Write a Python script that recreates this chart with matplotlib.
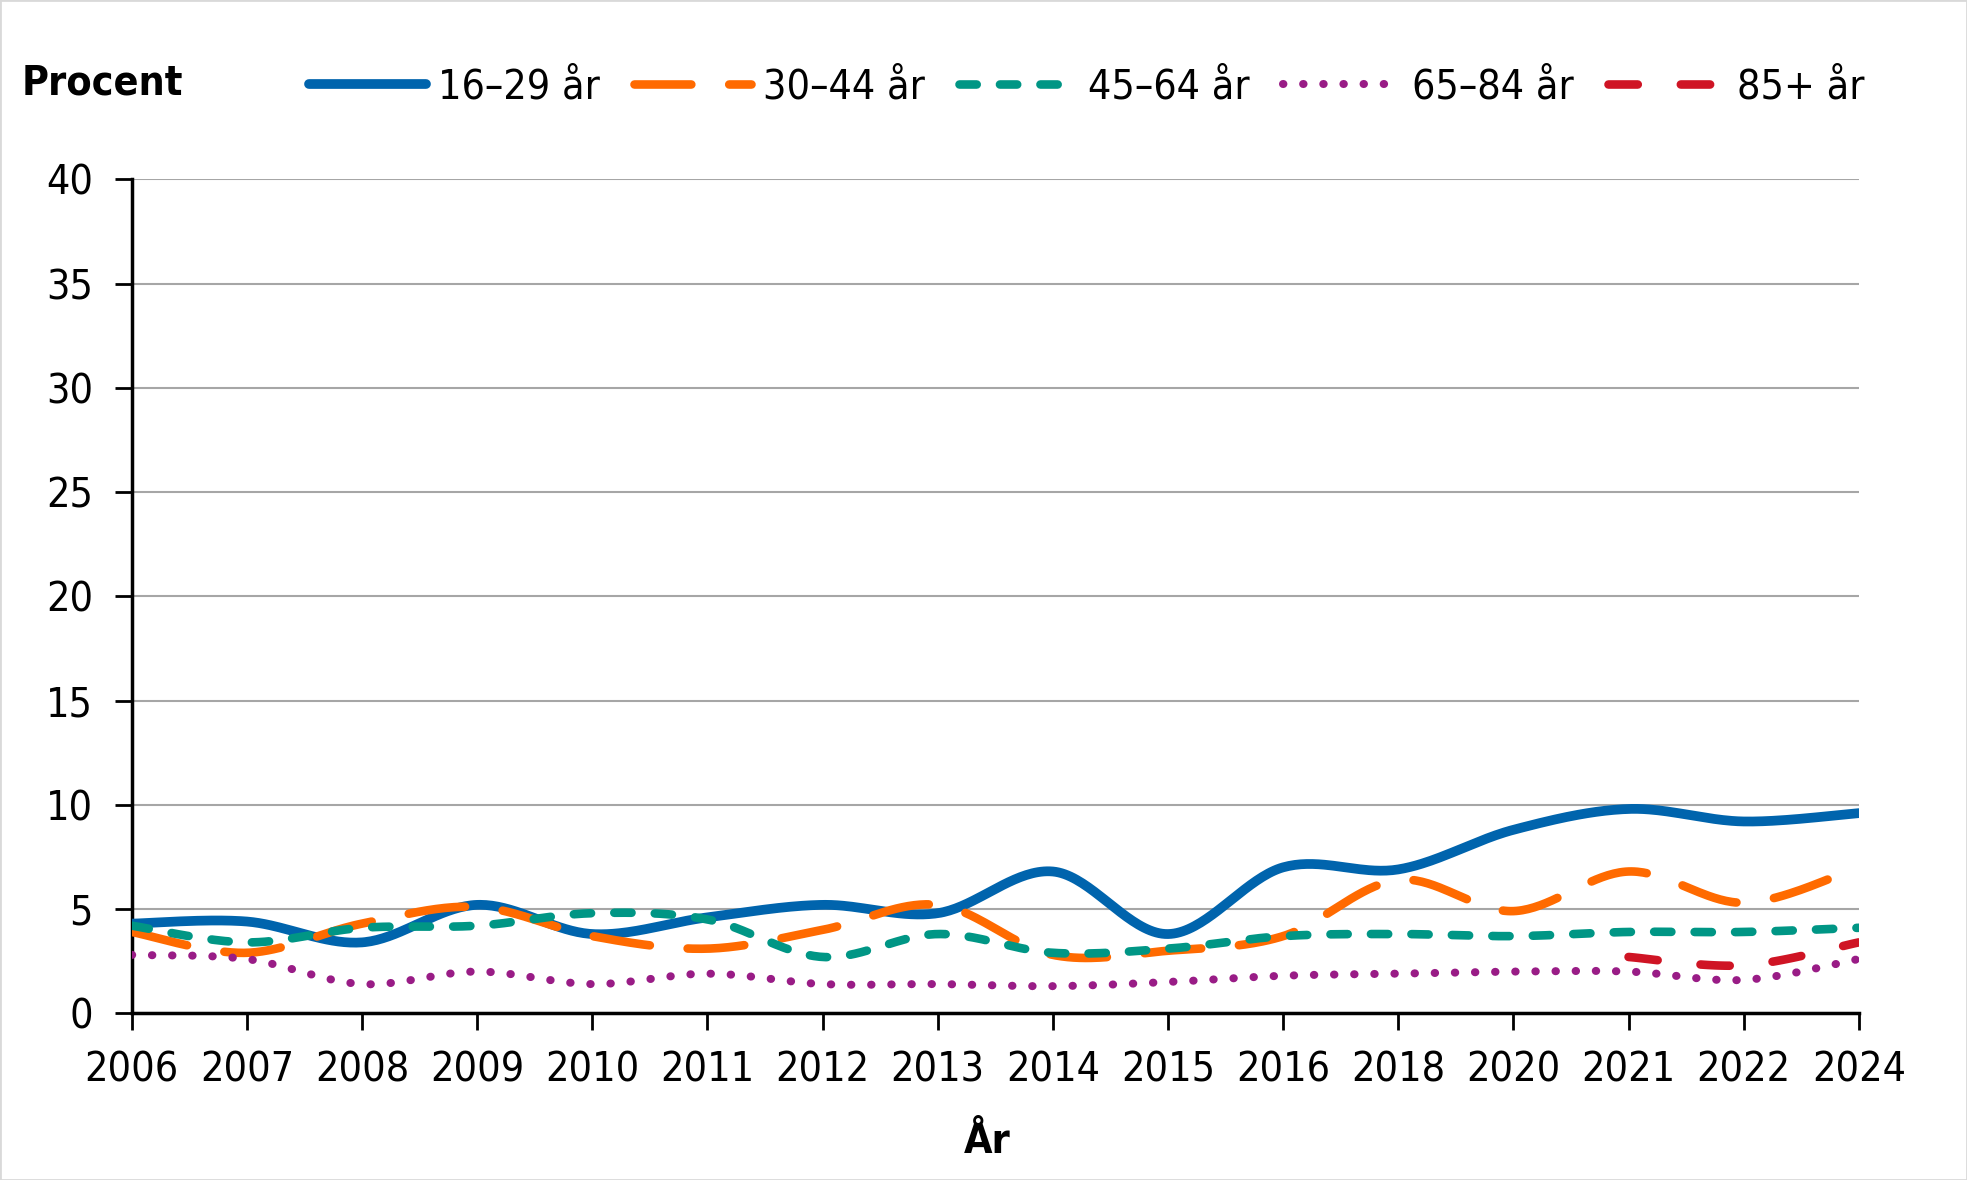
import numpy as np
import matplotlib.pyplot as plt
from matplotlib.patches import Rectangle

plt.rcParams['font.family'] = ['DejaVu Sans']
plt.rcParams['font.stretch'] = 'condensed'

# data (procent)
years = ['2006', '2007', '2008', '2009', '2010', '2011', '2012', '2013',
         '2014', '2015', '2016', '2018', '2020', '2021', '2022', '2024']
age_16_29 = [4.3, 4.4, 3.4, 5.2, 3.8, 4.6, 5.2, 4.8, 6.8, 3.8, 7.0, 6.9, 8.8, 9.8, 9.2, 9.6]
age_30_44 = [3.9, 2.9, 4.3, 5.1, 3.7, 3.1, 4.0, 5.2, 2.8, 3.0, 3.7, 6.4, 4.9, 6.8, 5.3, 7.0]
age_45_64 = [4.2, 3.4, 4.1, 4.2, 4.8, 4.5, 2.7, 3.8, 2.9, 3.1, 3.7, 3.8, 3.7, 3.9, 3.9, 4.1]
age_65_84 = [2.8, 2.6, 1.4, 2.0, 1.4, 1.9, 1.4, 1.4, 1.3, 1.5, 1.8, 1.9, 2.0, 2.0, 1.6, 2.6]
age_85 = [np.nan] * 13 + [2.7, 2.3, 3.4]

labels = ['16–29 år', '30–44 år', '45–64 år', '65–84 år', '85+ år']
colors = ['#0064ad', '#ff6a00', '#009685', '#991c86', '#cf1424']


def smooth(x, y, n=40):
    # Excel-style smoothed line (Bezier through the points)
    x = np.asarray(x, float)
    y = np.asarray(y, float)
    ok = ~np.isnan(y)
    x, y = x[ok], y[ok]
    pts = np.column_stack([x, y])
    out = []
    t = np.linspace(0, 1, n)[:, None]
    for i in range(len(pts) - 1):
        p0 = pts[i - 1] if i > 0 else pts[i]
        p1 = pts[i]
        p2 = pts[i + 1]
        p3 = pts[i + 2] if i + 2 < len(pts) else pts[i + 1]
        c1 = p1 + (p2 - p0) / 6
        c2 = p2 - (p3 - p1) / 6
        seg = ((1 - t) ** 3) * p1 + 3 * ((1 - t) ** 2) * t * c1 + 3 * (1 - t) * t ** 2 * c2 + t ** 3 * p2
        out.append(seg if i == 0 else seg[1:])
    seg = np.vstack(out)
    return seg[:, 0], seg[:, 1]


FS = 29.5
fig = plt.figure(figsize=(19.67, 11.80), dpi=100)
ax = fig.add_axes([0.067, 0.1413, 0.878, 0.7067])

xpos = np.arange(len(years))
series = [age_16_29, age_30_44, age_45_64, age_65_84, age_85]
styles = [
    dict(lw=7.0, ls='-'),
    dict(lw=6.2, dashes=(6.6, 4.4)),
    dict(lw=6.2, dashes=(2.0, 2.7)),
    dict(lw=5.8, dashes=(0.05, 2.45)),
    dict(lw=6.2, dashes=(3.4, 5.0)),
]
handles = []
for vals, col, lab, st in zip(series, colors, labels, styles):
    sx, sy = smooth(xpos, vals)
    line, = ax.plot(sx, sy, color=col, label=lab, solid_capstyle='round',
                    dash_capstyle='round', zorder=3, **st)
    handles.append(line)

ax.set_xlim(0, len(years) - 1)
ax.set_ylim(0, 40)
ax.set_yticks(np.arange(0, 41, 5))
ax.set_xticks(xpos)
ax.set_xticklabels(years)
ax.tick_params(axis='both', labelsize=FS, length=12, width=2, direction='out', colors='black')
ax.tick_params(axis='x', pad=15)
ax.tick_params(axis='y', pad=16)
ax.yaxis.grid(True, color='#a6a6a6', lw=1.5)
ax.set_axisbelow(True)
for s in ['top', 'right']:
    ax.spines[s].set_visible(False)
for s in ['left', 'bottom']:
    ax.spines[s].set_linewidth(2.5)
    ax.spines[s].set_color('black')

fig.text(787 / 1568, 1 - 911 / 941, 'År', fontsize=FS, fontweight='bold', va='center', ha='center')
fig.text(0.011, 0.929, 'Procent', fontsize=FS, fontweight='bold', va='center', ha='left')

fig.legend(handles=handles, loc='center left', bbox_to_anchor=(0.157, 0.926),
           ncol=5, frameon=False, fontsize=FS, handlelength=2.85, handletextpad=0.3,
           columnspacing=0.83, borderpad=0, borderaxespad=0)

fig.patches.append(Rectangle((0, 0), 1, 1, transform=fig.transFigure, fill=False,
                             edgecolor='#d9d9d9', lw=2))

fig.savefig('out.png', dpi=100)
